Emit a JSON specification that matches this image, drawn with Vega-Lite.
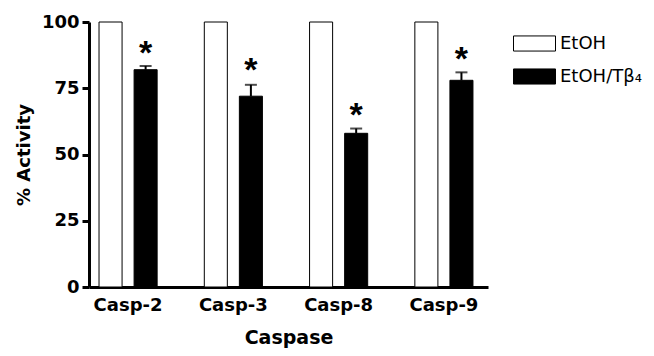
{
  "$schema": "https://vega.github.io/schema/vega-lite/v6.json",
  "autosize": "none",
  "width": 399,
  "height": 265,
  "padding": {"left": 89, "top": 22, "right": 166, "bottom": 69},
  "background": "white",
  "config": {
    "view": {"stroke": null},
    "font": "DejaVu Sans",
    "axis": {"domainColor": "black", "tickColor": "black", "labelColor": "black", "titleColor": "black", "grid": false}
  },
  "data": {
    "values": [
      {"caspase": "Casp-2", "group": "EtOH", "value": 100, "upper": null, "star": null},
      {"caspase": "Casp-2", "group": "EtOH/Tβ₄", "value": 82, "upper": 83.4, "star": 90},
      {"caspase": "Casp-3", "group": "EtOH", "value": 100, "upper": null, "star": null},
      {"caspase": "Casp-3", "group": "EtOH/Tβ₄", "value": 72, "upper": 76.3, "star": 83.5},
      {"caspase": "Casp-8", "group": "EtOH", "value": 100, "upper": null, "star": null},
      {"caspase": "Casp-8", "group": "EtOH/Tβ₄", "value": 58, "upper": 59.8, "star": 66.5},
      {"caspase": "Casp-9", "group": "EtOH", "value": 100, "upper": null, "star": null},
      {"caspase": "Casp-9", "group": "EtOH/Tβ₄", "value": 78, "upper": 81, "star": 87.5}
    ]
  },
  "encoding": {
    "x": {
      "field": "caspase", "type": "nominal",
      "scale": {"paddingInner": 0.448, "paddingOuter": 0.119, "align": 0.4},
      "axis": {
        "title": "Caspase", "labelAngle": 0, "ticks": false,
        "domainWidth": 3, "labelPadding": 9,
        "labelFont": "DejaVu Sans", "labelFontWeight": "bold", "labelFontSize": 18,
        "titleFont": "DejaVu Sans", "titleFontWeight": "bold", "titleFontSize": 19, "titlePadding": 14
      }
    },
    "xOffset": {
      "field": "group", "type": "nominal",
      "scale": {"domain": ["EtOH", "EtOH/Tβ₄"], "paddingInner": 0.343, "paddingOuter": 0}
    }
  },
  "layer": [
    {
      "mark": {"type": "bar", "stroke": "black", "strokeWidth": 1},
      "encoding": {
        "y": {
          "field": "value", "type": "quantitative",
          "scale": {"domain": [0, 100], "nice": false},
          "axis": {
            "title": "% Activity", "values": [0, 25, 50, 75, 100],
            "domainWidth": 3, "tickWidth": 3, "tickSize": 7, "labelPadding": 3,
            "labelFont": "DejaVu Sans", "labelFontWeight": "bold", "labelFontSize": 18,
            "titleFont": "DejaVu Sans", "titleFontWeight": "bold", "titleFontSize": 18, "titlePadding": 8
          }
        },
        "fill": {
          "field": "group", "type": "nominal",
          "scale": {"domain": ["EtOH", "EtOH/Tβ₄"], "range": ["white", "black"]},
          "legend": {
            "title": null, "orient": "none", "legendX": 424, "legendY": 0,
            "symbolType": "M-1,-0.36H1V0.36H-1Z", "symbolSize": 1764,
            "symbolStrokeColor": "black", "symbolStrokeWidth": 1,
            "labelFont": "DejaVu Sans", "labelFontSize": 18, "labelColor": "black",
            "labelOffset": 4, "rowPadding": 1, "padding": 0, "labelLimit": 200
          }
        }
      }
    },
    {
      "transform": [{"filter": "datum.upper != null"}],
      "mark": {"type": "rule", "color": "black", "strokeWidth": 2},
      "encoding": {
        "y": {"field": "value", "type": "quantitative"},
        "y2": {"field": "upper"}
      }
    },
    {
      "transform": [{"filter": "datum.upper != null"}],
      "mark": {"type": "tick", "color": "black", "thickness": 2, "size": 12},
      "encoding": {
        "y": {"field": "upper", "type": "quantitative"}
      }
    },
    {
      "transform": [{"filter": "datum.star != null"}],
      "mark": {"type": "text", "text": "*", "font": "Liberation Sans", "fontWeight": "bold", "fontSize": 34, "baseline": "alphabetic", "dy": 15, "color": "black"},
      "encoding": {
        "y": {"field": "star", "type": "quantitative"}
      }
    }
  ]
}
